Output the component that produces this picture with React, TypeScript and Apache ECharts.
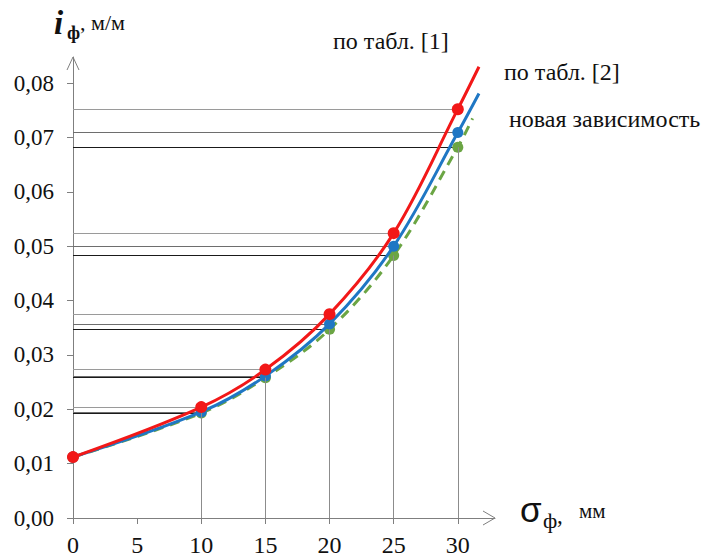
import React, { useEffect, useRef } from "react";
import * as echarts from "echarts";

const xValues = [0, 10, 15, 20, 25, 30];
const table1 = [0.0112, 0.0204, 0.0273, 0.0375, 0.0524, 0.0752];
const table2 = [0.0112, 0.0195, 0.0261, 0.0357, 0.05, 0.0709];
const newDep = [0.0112, 0.0193, 0.0258, 0.0347, 0.0483, 0.0682];
const ext1: [number, number] = [31.65, 0.083];
const ext2: [number, number] = [31.65, 0.0781];
const extNew: [number, number] = [31.15, 0.0735];
const xTicks = [0, 5, 10, 15, 20, 25, 30];
const yTicks = [0, 0.01, 0.02, 0.03, 0.04, 0.05, 0.06, 0.07, 0.08];
const legendNames = ["по табл. [1]", "по табл. [2]", "новая зависимость"];

const X_MAX = 32.9;
const Y_MAX = 0.0848;
const SERIF = "Times New Roman";

function buildSeries(
  name: string,
  vals: number[],
  ext: [number, number],
  color: string,
  refColor: string,
  size: number,
  dashed: boolean,
  z: number
) {
  const data: any[] = xValues.map((x, i) => [x, vals[i]]);
  data.push({ value: ext, symbol: "none" });
  const hLines = xValues
    .map((x, i) => ({ x, v: vals[i] }))
    .filter((p) => p.x > 0)
    .map((p) => [{ coord: [0, p.v] }, { coord: [p.x, p.v] }]);
  return {
    name,
    type: "line",
    smooth: 0.35,
    data,
    symbol: "circle",
    symbolSize: size,
    z,
    itemStyle: { color },
    lineStyle: { color, width: 3, type: dashed ? [10, 7] : "solid" },
    markLine: {
      silent: true,
      symbol: "none",
      label: { show: false },
      z: 1,
      lineStyle: { color: refColor, width: 1, type: "solid" },
      data: hLines,
    },
  };
}

export default function App() {
  const ref = useRef<HTMLDivElement>(null);
  useEffect(() => {
    if (!ref.current) return;
    const chart = echarts.init(ref.current, undefined, { renderer: "svg" });
    const vLines = xValues
      .map((x, i) => ({ x, v: newDep[i] }))
      .filter((p) => p.x > 0)
      .map((p) => [{ coord: [p.x, 0] }, { coord: [p.x, p.v] }]);
    const option: any = {
      animation: false,
      backgroundColor: "#ffffff",
      textStyle: { fontFamily: SERIF },
      grid: { left: 73, right: 206, top: 57, bottom: 38.5, containLabel: false },
      xAxis: {
        type: "value",
        min: 0,
        max: X_MAX,
        interval: 5,
        splitLine: { show: false },
        axisLine: { show: true, lineStyle: { color: "#7f7f7f", width: 1 } },
        axisTick: { show: true, length: 6, customValues: xTicks, lineStyle: { color: "#7f7f7f" } },
        axisLabel: {
          customValues: xTicks,
          margin: 15,
          color: "#111",
          fontFamily: SERIF,
          fontSize: 24,
        },
      },
      yAxis: {
        type: "value",
        min: 0,
        max: Y_MAX,
        interval: 0.01,
        splitLine: { show: false },
        axisLine: { show: true, lineStyle: { color: "#7f7f7f", width: 1 } },
        axisTick: { show: true, length: 6, customValues: yTicks, lineStyle: { color: "#7f7f7f" } },
        axisLabel: {
          customValues: yTicks,
          margin: 19,
          color: "#111",
          fontFamily: SERIF,
          fontSize: 23,
          formatter: (v: number) => v.toFixed(2).replace(".", ","),
        },
      },
      series: [
        {
          name: "verticals",
          type: "line",
          data: [],
          markLine: {
            silent: true,
            symbol: "none",
            label: { show: false },
            lineStyle: { color: "#8c8c8c", width: 1, type: "solid" },
            data: vLines,
          },
        },
        buildSeries(legendNames[2], newDep, extNew, "#6BA544", "#1a1a1a", 11, true, 2),
        buildSeries(legendNames[1], table2, ext2, "#1F77C4", "#6e6e6e", 11, false, 3),
        buildSeries(legendNames[0], table1, ext1, "#F21818", "#9a9a9a", 12, false, 4),
      ],
    };
    chart.setOption(option);

    const tipX = chart.convertToPixel({ gridIndex: 0 }, [X_MAX, 0]) as number[];
    const tipY = chart.convertToPixel({ gridIndex: 0 }, [0, Y_MAX]) as number[];
    const arrowStyle = { stroke: "#7f7f7f", lineWidth: 1, fill: null };
    const txt = (text: string, left: number, top: number, size: number, extra: any = {}) => ({
      type: "text",
      left,
      top,
      style: {
        text,
        fontFamily: SERIF,
        fontSize: size,
        fill: "#111",
        ...extra,
      },
    });
    const graphic: any[] = [
      {
        type: "polyline",
        shape: { points: [[tipX[0] - 12, tipX[1] - 7], [tipX[0], tipX[1]], [tipX[0] - 12, tipX[1] + 7]] },
        style: arrowStyle,
      },
      {
        type: "polyline",
        shape: { points: [[tipY[0] - 6, tipY[1] + 13], [tipY[0], tipY[1]], [tipY[0] + 6, tipY[1] + 13]] },
        style: arrowStyle,
      },
      // y axis name
      txt("i", 54, 6, 33, { fontStyle: "italic", fontWeight: "bold" }),
      txt("ф", 67, 23, 19, { fontWeight: "bold" }),
      txt(", м/м", 80, 11, 22),
      // x axis name
      {
        type: "text",
        left: 520,
        top: 492,
        style: { text: "σ", fontFamily: "Liberation Sans", fontSize: 35, fill: "#111" },
      },
      txt("ф", 543, 509, 22),
      txt(",", 557, 504, 23),
      txt("мм", 579, 500, 21),
      // series labels
      txt(legendNames[0], 333, 29, 24),
      txt(legendNames[1], 504, 60, 24),
      txt(legendNames[2], 509, 107, 24),
    ];
    chart.setOption({ graphic });
    return () => chart.dispose();
  }, []);
  return (
    <div
      ref={ref}
      style={{ position: "fixed", left: 0, top: 0, width: 701, height: 557, background: "#fff" }}
    />
  );
}
